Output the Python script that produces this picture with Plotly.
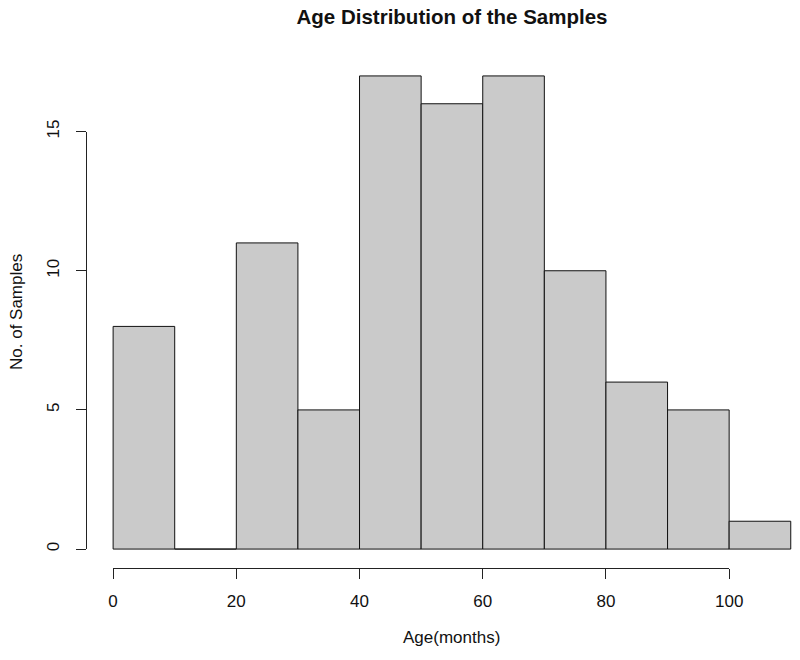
import plotly.graph_objects as go

# ---- data ----
bin_left = [0, 10, 20, 30, 40, 50, 60, 70, 80, 90, 100]
counts = [8, 0, 11, 5, 17, 16, 17, 10, 6, 5, 1]
bin_width = 10
x_ticks = [0, 20, 40, 60, 80, 100]
y_ticks = [0, 5, 10, 15]
title_text = "Age Distribution of the Samples"
x_title = "Age(months)"
y_title = "No. of Samples"

# ---- layout geometry ----
W, H = 800, 660
L, R, T, B = 86, 0, 57, 92
x_range = [-4.4, 111.5]
y_range = [-0.68, 17.68]
FONT = "Liberation Sans, Arial, sans-serif"
PW, PH = W - L - R, H - T - B


def frac(v, r):
    return (v - r[0]) / (r[1] - r[0])


fig = go.Figure()
fig.add_trace(go.Bar(
    x=[b + bin_width / 2 for b in bin_left],
    y=counts,
    width=bin_width,
    marker=dict(color="#cacaca", line=dict(color="#111111", width=1)),
    xaxis="x", yaxis="y", showlegend=False, hoverinfo="skip",
))
# carrier for the R-style axes
fig.add_trace(go.Scatter(x=[x_ticks[0]], y=[y_ticks[0]], mode="markers",
                         marker=dict(opacity=0), xaxis="x2", yaxis="y2",
                         showlegend=False, hoverinfo="skip"))

fig.update_layout(
    width=W, height=H, autosize=False,
    margin=dict(l=L, r=R, t=T, b=B, pad=0),
    paper_bgcolor="white", plot_bgcolor="rgba(0,0,0,0)",
    font=dict(family=FONT, size=17, color="#111111"),
    title=dict(text="<b>" + title_text + "</b>", x=452 / W, xanchor="center",
               xref="container", yref="container", y=1 - 17 / H, yanchor="middle",
               font=dict(size=20.5, family=FONT, color="#111111")),
    xaxis=dict(range=x_range, domain=[0, 1], visible=False, fixedrange=True,
               automargin=False),
    yaxis=dict(range=y_range, domain=[0, 1], visible=False, fixedrange=True,
               automargin=False),
    xaxis2=dict(range=[x_ticks[0], x_ticks[-1]],
                domain=[frac(x_ticks[0], x_range), frac(x_ticks[-1], x_range)],
                anchor="free", position=0, showline=True, linecolor="#222222",
                linewidth=1, ticks="outside", ticklen=10, tickwidth=1,
                tickcolor="#222222", tickvals=x_ticks, showgrid=False,
                zeroline=False, ticklabelstandoff=8, fixedrange=True,
                automargin=False),
    yaxis2=dict(range=[y_ticks[0], y_ticks[-1]],
                domain=[frac(y_ticks[0], y_range), frac(y_ticks[-1], y_range)],
                anchor="free", position=0, showline=True, linecolor="#222222",
                linewidth=1, ticks="outside", ticklen=10, tickwidth=1,
                tickcolor="#222222", tickvals=y_ticks, tickangle=-90,
                showgrid=False, zeroline=False, ticklabelstandoff=10,
                fixedrange=True, automargin=False),
    annotations=[
        dict(text=x_title, xref="paper", yref="paper",
             x=(452 - L) / PW, y=-(637 - (H - B)) / PH,
             xanchor="center", yanchor="middle", showarrow=False,
             font=dict(size=17)),
        dict(text=y_title, xref="paper", yref="paper", textangle=-90,
             x=(16 - L) / PW, y=(H - B - 312) / PH,
             xanchor="center", yanchor="middle", showarrow=False,
             font=dict(size=17)),
    ],
)

fig.write_html("out.html", config={"responsive": False, "displayModeBar": False},
               post_script="document.body.style.margin='0';")
